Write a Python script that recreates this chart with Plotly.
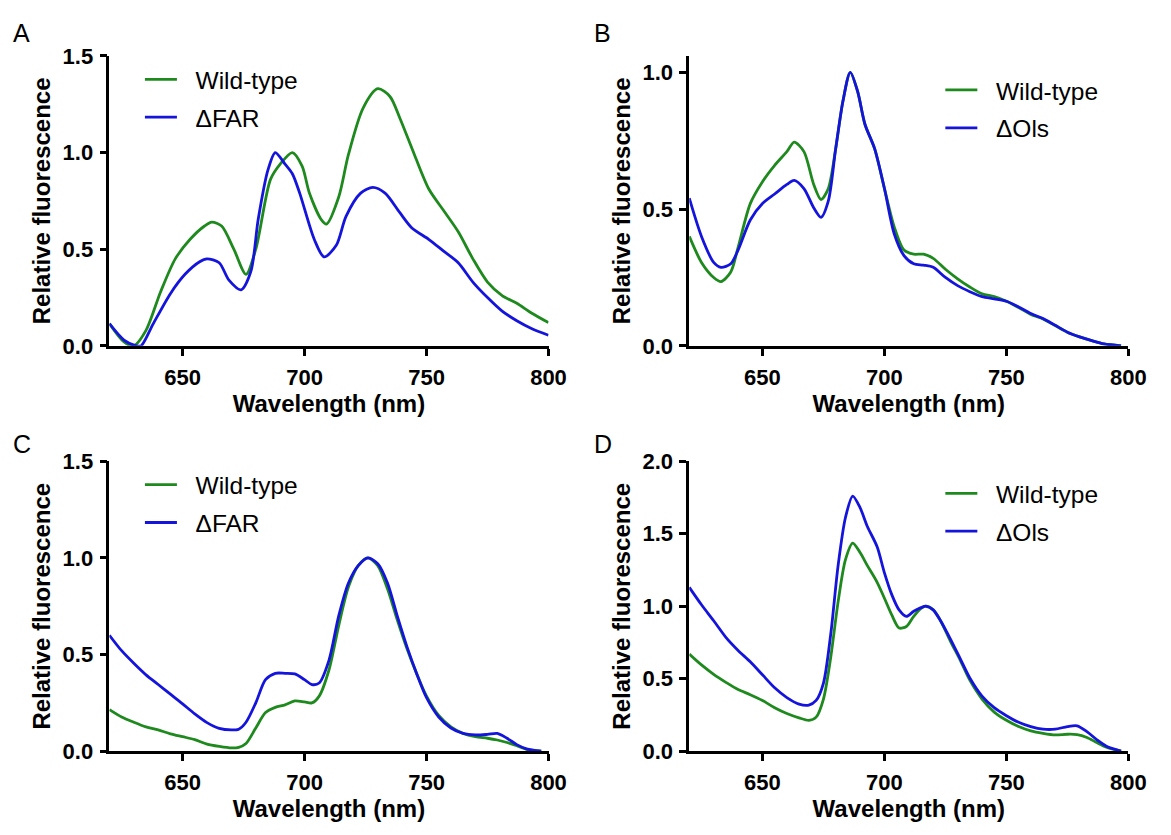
import plotly.graph_objects as go

# Panel A - Wild-type vs dFAR
wl_a_wt = [620, 626, 630, 635, 641, 647, 653, 659, 662, 666, 671, 676, 680, 686, 690, 695, 699, 702,
           707, 709, 714, 718, 724, 730, 735, 739, 745, 751, 757, 763, 769, 775, 781, 787, 793, 800]
a_wt = [0.115, 0.02, 0.0, 0.08, 0.28, 0.45, 0.55, 0.62, 0.64, 0.62, 0.50, 0.37, 0.50, 0.86, 0.94, 1.0,
        0.93, 0.79, 0.65, 0.63, 0.77, 0.99, 1.23, 1.33, 1.29, 1.18, 0.99, 0.81, 0.70, 0.59, 0.45, 0.33,
        0.26, 0.22, 0.17, 0.12]
wl_a_mut = [620, 626, 631, 633, 638, 645, 651, 657, 660, 665, 669, 674, 678, 681, 685, 688, 692, 695,
            698, 704, 708, 713, 717, 723, 728, 733, 739, 744, 751, 757, 763, 769, 775, 781, 787, 793, 800]
a_mut = [0.115, 0.03, 0.0, 0.0, 0.115, 0.27, 0.37, 0.435, 0.45, 0.43, 0.34, 0.29, 0.385, 0.655, 0.91,
         1.0, 0.94, 0.89, 0.79, 0.55, 0.46, 0.52, 0.67, 0.79, 0.82, 0.79, 0.69, 0.61, 0.55, 0.49, 0.43,
         0.33, 0.25, 0.18, 0.13, 0.09, 0.055]

# Panel B - Wild-type vs dOls
wl_b = [620, 625, 630, 633, 637, 640, 645, 650, 655, 660, 663, 667, 671, 674, 677, 680, 683, 686, 689,
        692, 696, 700, 704, 708, 712, 716, 720, 725, 730, 735, 740, 745, 750, 755, 760, 765, 770, 775,
        780, 785, 790, 797]
b_wt = [0.40, 0.305, 0.25, 0.235, 0.27, 0.36, 0.52, 0.60, 0.66, 0.71, 0.745, 0.71, 0.59, 0.535, 0.575,
        0.72, 0.895, 1.0, 0.93, 0.81, 0.72, 0.575, 0.435, 0.35, 0.335, 0.335, 0.32, 0.28, 0.245, 0.215,
        0.19, 0.18, 0.163, 0.14, 0.115, 0.098, 0.074, 0.05, 0.033, 0.019, 0.007, 0.0]
b_mut = [0.54, 0.40, 0.305, 0.287, 0.30, 0.35, 0.46, 0.52, 0.555, 0.59, 0.605, 0.575, 0.505, 0.47, 0.53,
         0.72, 0.895, 1.0, 0.93, 0.81, 0.72, 0.575, 0.41, 0.33, 0.30, 0.295, 0.287, 0.25, 0.22, 0.198,
         0.18, 0.172, 0.163, 0.142, 0.118, 0.1, 0.075, 0.05, 0.033, 0.019, 0.007, 0.0]

# Panel C - Wild-type vs dFAR
wl_c = [620, 625, 630, 635, 640, 645, 650, 655, 660, 665, 670, 673, 676, 680, 684, 688, 692, 696, 700,
        703, 706, 710, 714, 718, 722, 726, 730, 734, 738, 742, 746, 750, 755, 760, 765, 770, 775, 779,
        783, 787, 791, 797]
c_wt = [0.215, 0.177, 0.15, 0.126, 0.11, 0.09, 0.075, 0.06, 0.037, 0.025, 0.017, 0.02, 0.04, 0.12, 0.20,
        0.227, 0.24, 0.26, 0.255, 0.25, 0.285, 0.42, 0.65, 0.85, 0.96, 1.0, 0.96, 0.84, 0.68, 0.53, 0.40,
        0.285, 0.185, 0.126, 0.092, 0.075, 0.067, 0.058, 0.045, 0.028, 0.01, 0.0]
c_mut = [0.60, 0.52, 0.455, 0.395, 0.345, 0.295, 0.245, 0.193, 0.148, 0.118, 0.11, 0.114, 0.15, 0.25,
         0.37, 0.403, 0.403, 0.40, 0.37, 0.345, 0.353, 0.47, 0.70, 0.87, 0.96, 1.0, 0.97, 0.87, 0.70,
         0.54, 0.40, 0.277, 0.177, 0.12, 0.092, 0.084, 0.087, 0.092, 0.067, 0.034, 0.012, 0.0]

# Panel D - Wild-type vs dOls
wl_d = [620, 625, 630, 635, 640, 645, 650, 655, 660, 665, 669, 672, 675, 678, 681, 684, 687, 690, 693,
        697, 700, 703, 706, 709, 712, 715, 717, 720, 723, 727, 731, 735, 740, 745, 750, 755, 760, 765,
        770, 775, 779, 783, 787, 791, 797]
d_wt = [0.67, 0.595, 0.53, 0.475, 0.425, 0.39, 0.35, 0.30, 0.26, 0.23, 0.213, 0.235, 0.36, 0.65, 1.03,
        1.32, 1.435, 1.37, 1.28, 1.165, 1.055, 0.94, 0.85, 0.86, 0.93, 0.985, 1.0, 0.975, 0.90, 0.76,
        0.63, 0.49, 0.36, 0.27, 0.213, 0.17, 0.14, 0.123, 0.112, 0.117, 0.115, 0.095, 0.06, 0.028, 0.0]
d_mut = [1.13, 1.01, 0.90, 0.785, 0.695, 0.617, 0.527, 0.437, 0.37, 0.325, 0.318, 0.35, 0.47, 0.81,
         1.28, 1.61, 1.76, 1.68, 1.55, 1.41, 1.23, 1.08, 0.975, 0.93, 0.965, 0.99, 1.0, 0.975, 0.90,
         0.775, 0.64, 0.505, 0.38, 0.30, 0.245, 0.20, 0.17, 0.152, 0.152, 0.17, 0.175, 0.135, 0.08,
         0.034, 0.0]

panels = [
    ("A", wl_a_wt, a_wt, wl_a_mut, a_mut, "ΔFAR", [0, 1.5], [0, 0.5, 1.0, 1.5]),
    ("B", wl_b, b_wt, wl_b, b_mut, "ΔOls", [0, 1.06], [0, 0.5, 1.0]),
    ("C", wl_c, c_wt, wl_c, c_mut, "ΔFAR", [0, 1.5], [0, 0.5, 1.0, 1.5]),
    ("D", wl_d, d_wt, wl_d, d_mut, "ΔOls", [0, 2.0], [0, 0.5, 1.0, 1.5, 2.0]),
]

GREEN = "#1e8a1e"
BLUE = "#1414dc"
FONT = "Arial, Liberation Sans, sans-serif"
GAP = "\u00a0\u00a0"  # extra room between legend line and its text

# the page body has an 8px margin, so the figure is made smaller and positions shifted
OFF = 8
W, H = 1171 - OFF, 835 - OFF


def fx(px):
    return (px - OFF) / W


def fy(py):
    return 1 - (py - OFF) / H


# plot areas in window pixels: (left, right, top, bottom)
boxes = [(111, 557, 45, 344), (700, 1146, 45, 344), (111, 557, 463, 762), (700, 1146, 463, 762)]
legend_pos = [(142, 46), (955, 57), (142, 464), (955, 473)]
letter_pos = [(22, 21), (612, 21), (22, 445), (612, 445)]

fig = go.Figure()
for i, (letter, wx1, wy1, wx2, wy2, mut_name, yr, yt) in enumerate(panels):
    n = "" if i == 0 else str(i + 1)
    leg = "legend" + n
    fig.add_trace(go.Scatter(x=wx1, y=wy1, name=GAP + "Wild-type", mode="lines",
                             line=dict(color=GREEN, width=2.8, shape="spline", smoothing=0.8),
                             xaxis="x" + n, yaxis="y" + n, legend=leg, legendgroup=leg + "a"))
    fig.add_trace(go.Scatter(x=wx2, y=wy2, name=GAP + mut_name, mode="lines",
                             line=dict(color=BLUE, width=2.8, shape="spline", smoothing=0.8),
                             xaxis="x" + n, yaxis="y" + n, legend=leg, legendgroup=leg + "b"))
    l, r, t, b = boxes[i]
    axis_common = dict(showline=True, linecolor="black", linewidth=2.7, ticks="outside",
                       ticklen=7, tickwidth=2.7, tickcolor="black", showgrid=False, zeroline=False,
                       tickfont=dict(family=FONT, size=22, color="black", weight="bold"))
    fig.layout["xaxis" + n] = dict(
        domain=[fx(l), fx(r)], anchor="y" + n, range=[620, 800],
        tickvals=[650, 700, 750, 800], ticklabelstandoff=3,
        title=dict(text="Wavelength (nm)", standoff=0,
                   font=dict(family=FONT, size=24, color="black", weight="bold")),
        **axis_common)
    fig.layout["yaxis" + n] = dict(
        domain=[fy(b), fy(t)], anchor="x" + n, range=yr,
        tickvals=yt, tickformat=".1f", ticklabelstandoff=2,
        title=dict(text="Relative fluorescence", standoff=6,
                   font=dict(family=FONT, size=24, color="black", weight="bold")),
        **axis_common)
    lx, ly = legend_pos[i]
    fig.layout[leg] = dict(x=fx(lx), y=fy(ly), xanchor="left", yanchor="top",
                           bgcolor="rgba(0,0,0,0)", itemwidth=32, traceorder="grouped",
                           tracegroupgap=3,
                           font=dict(family=FONT, size=24.5, color="black"))
    px, py = letter_pos[i]
    fig.add_annotation(x=fx(px), y=fy(py), xref="paper", yref="paper", text=letter,
                       showarrow=False, font=dict(family=FONT, size=25, color="black"),
                       xanchor="center", yanchor="middle")

fig.update_layout(width=W, height=H, margin=dict(l=0, r=0, t=0, b=0),
                  paper_bgcolor="white", plot_bgcolor="white", showlegend=True)

fig.write_html("out.html")
